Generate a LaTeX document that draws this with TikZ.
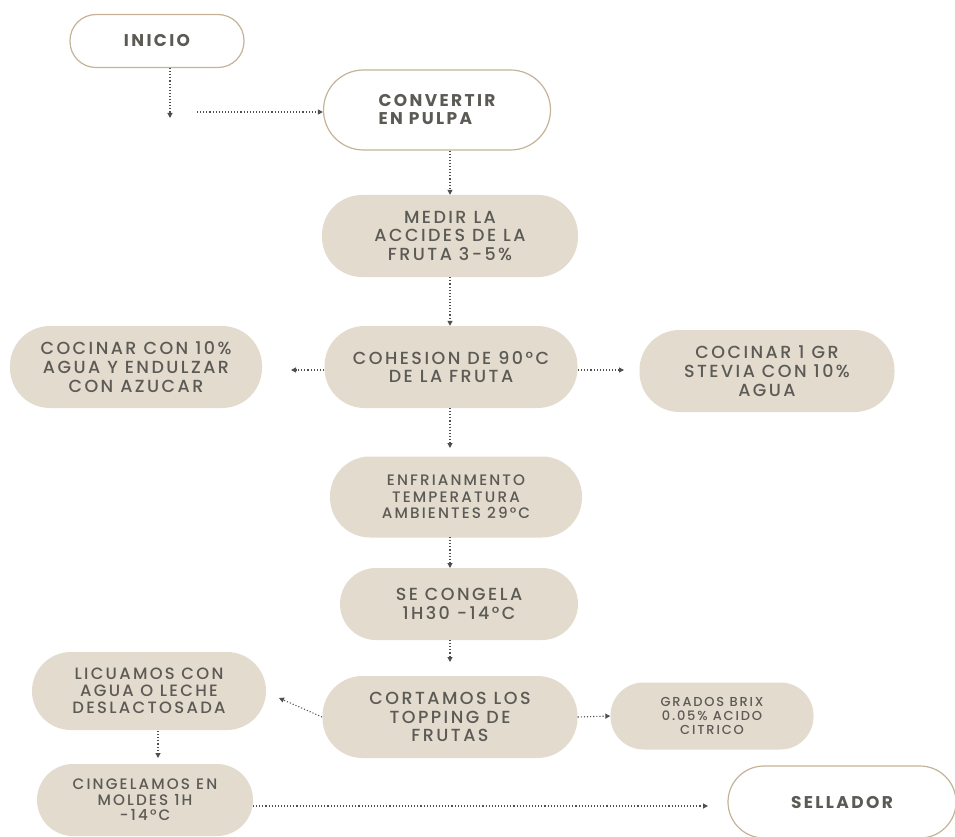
\documentclass[tikz,border=0pt]{standalone}
\usepackage{fontspec}
\setmainfont{Poppins}[LetterSpace=14, UprightFont={* Medium}, BoldFont={* Bold}]
\usetikzlibrary{arrows.meta}
\definecolor{boxfill}{HTML}{E2DBCE}
\definecolor{boxline}{HTML}{C4B396}
\definecolor{txt}{HTML}{5C5A55}
\definecolor{arr}{HTML}{4F4F4F}
\tikzset{
  base/.style={rounded corners=#1, align=center, text=txt, inner sep=0pt},
  proc/.style={base=40pt, fill=boxfill, font=\fontsize{17.5}{18.7}\selectfont},
  term/.style={base=40pt, fill=white, draw=boxline, line width=1.2pt, font=\bfseries\fontsize{17}{18}\selectfont},
  flow/.style={draw=arr, dotted, line width=1.1pt, -{Triangle[length=5pt,width=5pt]}},
}
\begin{document}
\begin{tikzpicture}[x=1pt,y=-1pt]
\useasboundingbox (0,0) rectangle (955,837);
% terminals
\node[term, minimum width=174pt, minimum height=53pt, base=26pt] (inicio) at (157,41) {INICIO};
\node[term, minimum width=227pt, minimum height=80pt, align=left] (conv) at (437,110) {CONVERTIR\\EN PULPA};
\node[term, minimum width=228pt, minimum height=72pt, base=36pt] (sell) at (842,802) {SELLADOR};
% process boxes
\node[proc, minimum width=256pt, minimum height=82pt] (medir) at (450,236) {MEDIR LA\\ACCIDES DE LA\\FRUTA 3-5\%};
\node[proc, minimum width=253pt, minimum height=82pt] (cohe) at (451,367) {COHESION DE 90°C\\DE LA FRUTA};
\node[proc, minimum width=252pt, minimum height=82pt] (coc1) at (136,367) {COCINAR CON 10\%\\AGUA Y ENDULZAR\\CON AZUCAR};
\node[proc, minimum width=255pt, minimum height=82pt] (coc2) at (767,371) {COCINAR 1 GR\\STEVIA CON 10\%\\AGUA};
\node[proc, minimum width=252pt, minimum height=81pt, font=\fontsize{15.2}{16.5}\selectfont] (enfr) at (456,497) {ENFRIANMENTO\\TEMPERATURA\\AMBIENTES 29°C};
\node[proc, minimum width=238pt, minimum height=72pt, base=36pt] (cong) at (459,604) {SE CONGELA\\1H30 -14°C};
\node[proc, minimum width=255pt, minimum height=82pt] (cort) at (450,717) {CORTAMOS LOS\\TOPPING DE\\FRUTAS};
\node[proc, minimum width=234pt, minimum height=78pt, base=39pt, font=\fontsize{16.4}{17}\selectfont] (licu) at (149,691) {LICUAMOS CON\\AGUA O LECHE\\DESLACTOSADA};
\node[proc, minimum width=216pt, minimum height=72pt, base=36pt, font=\fontsize{15.2}{15.5}\selectfont] (cing) at (145,800) {CINGELAMOS EN\\MOLDES 1H\\-14°C};
\node[proc, minimum width=203pt, minimum height=67pt, base=33pt, font=\fontsize{13}{14}\selectfont] (brix) at (712,716) {GRADOS BRIX\\0.05\% ACIDO\\CITRICO};
% free ends and anchor points
\coordinate (c1) at (170,118);
\coordinate (c2) at (197,112);
\coordinate (cl) at (324,370);
\coordinate (clE) at (291,370);
\coordinate (cr) at (578,370);
\coordinate (crE) at (624,370);
\coordinate (a1) at (450,408);
\coordinate (a1E) at (450,448);
\coordinate (a2) at (450,537);
\coordinate (a2E) at (450,568);
\coordinate (a3) at (450,640);
\coordinate (a3E) at (450,662);
\coordinate (lk) at (158,731);
\coordinate (lkE) at (158,758);
\coordinate (ce) at (253,806);
\coordinate (ceE) at (708,806);
\coordinate (ll) at (322,717);
\coordinate (llE) at (279,698);
% connectors
\draw[flow] (inicio.south -| c1) -- (c1);
\draw[flow] (c2) -- (c2 -| conv.west);
\draw[flow] (conv.south -| medir.north) -- (medir.north);
\draw[flow] (medir) -- (cohe.north -| medir);
\draw[flow] (cl) -- (clE);
\draw[flow] (cr) -- (crE);
\draw[flow] (a1) -- (a1E);
\draw[flow] (a2) -- (a2E);
\draw[flow] (a3) -- (a3E);
\draw[flow] (ll) -- (llE);
\draw[flow] (lk) -- (lkE);
\draw[flow] (cort.east) -- (brix.west);
\draw[flow] (ce) -- (ceE);
\end{tikzpicture}
\end{document}
